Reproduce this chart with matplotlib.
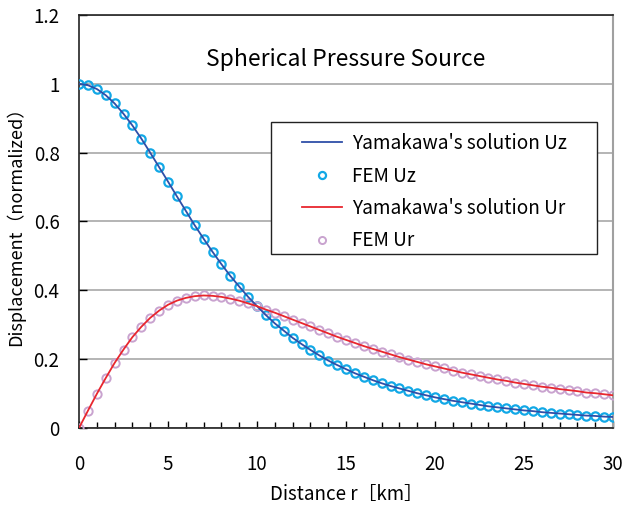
import matplotlib
matplotlib.use("Agg")
import matplotlib.pyplot as plt
from matplotlib.patches import Rectangle
from matplotlib.ticker import MultipleLocator

plt.rcParams['font.family'] = ['Noto Sans CJK JP', 'DejaVu Sans']

# distance from source axis [km], FEM nodes every 0.5 km
r_km = [0.0, 0.5, 1.0, 1.5, 2.0, 2.5, 3.0, 3.5, 4.0, 4.5,
        5.0, 5.5, 6.0, 6.5, 7.0, 7.5, 8.0, 8.5, 9.0, 9.5,
        10.0, 10.5, 11.0, 11.5, 12.0, 12.5, 13.0, 13.5, 14.0, 14.5,
        15.0, 15.5, 16.0, 16.5, 17.0, 17.5, 18.0, 18.5, 19.0, 19.5,
        20.0, 20.5, 21.0, 21.5, 22.0, 22.5, 23.0, 23.5, 24.0, 24.5,
        25.0, 25.5, 26.0, 26.5, 27.0, 27.5, 28.0, 28.5, 29.0, 29.5, 30.0]

# normalized vertical displacement
uz = [1.000, 0.996, 0.985, 0.967, 0.943, 0.913, 0.879, 0.841, 0.800, 0.758,
      0.716, 0.673, 0.631, 0.589, 0.550, 0.512, 0.476, 0.442, 0.411, 0.381,
      0.354, 0.328, 0.304, 0.283, 0.262, 0.244, 0.227, 0.211, 0.196, 0.183,
      0.171, 0.159, 0.149, 0.139, 0.130, 0.122, 0.115, 0.108, 0.101, 0.095,
      0.089, 0.084, 0.079, 0.075, 0.071, 0.067, 0.063, 0.060, 0.057, 0.054,
      0.051, 0.049, 0.046, 0.044, 0.042, 0.040, 0.038, 0.036, 0.035, 0.033, 0.032]

# normalized radial displacement
ur = [0.000, 0.050, 0.099, 0.145, 0.189, 0.228, 0.264, 0.294, 0.320, 0.341,
      0.358, 0.370, 0.378, 0.383, 0.385, 0.384, 0.381, 0.376, 0.370, 0.362,
      0.354, 0.344, 0.335, 0.325, 0.315, 0.305, 0.295, 0.285, 0.275, 0.265,
      0.256, 0.247, 0.238, 0.230, 0.222, 0.214, 0.206, 0.199, 0.192, 0.185,
      0.179, 0.173, 0.167, 0.161, 0.156, 0.151, 0.146, 0.141, 0.137, 0.132,
      0.128, 0.124, 0.120, 0.117, 0.113, 0.110, 0.107, 0.103, 0.101, 0.098, 0.095]

fig = plt.figure(figsize=(6.24, 5.05), dpi=100)
ax = fig.add_axes([0.1266, 0.1525, 0.8558, 0.8178])

ax.plot(r_km, uz, color='#2f4fa8', lw=1.3, zorder=4, label="Yamakawa's solution Uz")
ax.plot(r_km, uz, ls='none', marker='o', ms=6, mfc='none', mec='#12a8e6',
        mew=1.6, zorder=3, label='FEM Uz')
ax.plot(r_km, ur, color='#e8262e', lw=1.3, zorder=4, label="Yamakawa's solution Ur")
ax.plot(r_km, ur, ls='none', marker='o', ms=6, mfc='none', mec='#c9a3cf',
        mew=1.4, zorder=3, label='FEM Ur')

ax.set_xlim(0, 30)
ax.set_ylim(0, 1.2)
ax.xaxis.set_major_locator(MultipleLocator(5))
ax.xaxis.set_minor_locator(MultipleLocator(1))
ax.yaxis.set_major_locator(MultipleLocator(0.2))
ax.yaxis.set_major_formatter(plt.FuncFormatter(lambda v, p: f"{v:g}"))

ax.grid(axis='y', color='#a8a8a8', lw=1.2)
ax.set_axisbelow(True)
ax.tick_params(axis='x', which='major', direction='in', length=5, width=1,
               pad=19, labelsize=13.5, top=False)
ax.tick_params(axis='x', which='minor', direction='in', length=4, width=1, top=False)
ax.tick_params(axis='y', direction='in', length=6, width=1, pad=14,
               labelsize=13.5, right=False)
for s in ['left', 'bottom', 'top']:
    ax.spines[s].set_color('#222222')
    ax.spines[s].set_linewidth(1.2)
ax.spines['right'].set_color('#a0a0a0')
ax.spines['right'].set_linewidth(1.5)

ax.set_xlabel('Distance r［km］', fontsize=13.5, labelpad=6)
ax.set_ylabel('Displacement（normalized）', fontsize=13, labelpad=6)

ax.text(0.5, 0.892, 'Spherical Pressure Source', transform=ax.transAxes,
        ha='center', va='center', fontsize=16.5)

# legend frame drawn separately (wide side padding as in the source chart)
ax.add_patch(Rectangle((0.3596, 0.421), 0.6104, 0.320, transform=ax.transAxes,
                       facecolor='white', edgecolor='#222222', lw=1.0, zorder=6))
leg = ax.legend(loc='upper left', bbox_to_anchor=(0.418, 0.714), fontsize=13.7,
                frameon=False, handlelength=2.1, borderpad=0, borderaxespad=0,
                labelspacing=0.6, handletextpad=0.5, markerscale=0.85)
leg.set_zorder(7)

fig.savefig('out.png', dpi=100)
